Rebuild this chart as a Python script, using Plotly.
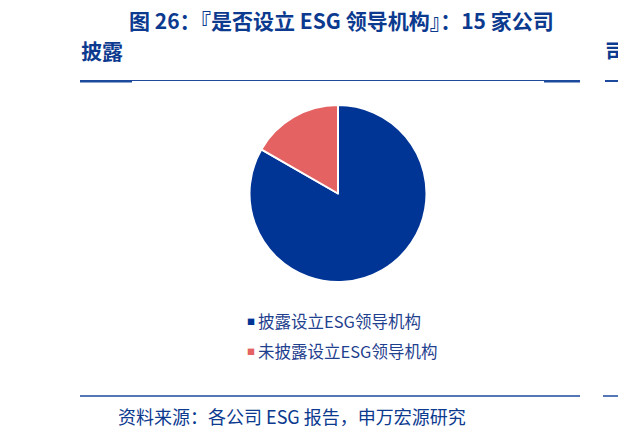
import plotly.graph_objects as go

# data
labels = ["披露设立ESG领导机构", "未披露设立ESG领导机构"]
shares = [83.3, 16.7]
slice_colors = ["#003595", "#e46262"]

title_text = "图 26：『是否设立 ESG 领导机构』：15 家公司"
subtitle_text = "披露"
source_text = "资料来源：各公司 ESG 报告，申万宏源研究"

# page has an 8px body margin, so the figure is drawn slightly smaller and shifted
PAGE_W, PAGE_H = 626, 438
OFF = 8
W, H = PAGE_W - OFF, PAGE_H - OFF
NAVY = "#0b3a8f"
LINE = "#1d4a9c"
FONT = "Noto Sans CJK SC"


def px(x):
  return (x - OFF) / W


def py(y):
  return 1 - (y - OFF) / H


fig = go.Figure()
fig.add_trace(
  go.Pie(
    labels=labels,
    values=shares,
    sort=False,
    direction="clockwise",
    rotation=0,
    marker={"colors": slice_colors, "line": {"color": "white", "width": 2}},
    textinfo="none",
    hoverinfo="label+percent",
    domain={"x": [px(249.5), px(426.5)], "y": [py(282), py(105)]},
    showlegend=False,
  )
)

annotations = [
  dict(x=px(341), y=py(20), text=f"<b>{title_text}</b>", showarrow=False,
       xanchor="center", yanchor="middle", font={"size": 21, "color": NAVY, "family": FONT}),
  dict(x=px(79), y=py(50), text=f"<b>{subtitle_text}</b>", showarrow=False,
       xanchor="left", yanchor="middle", font={"size": 21, "color": NAVY, "family": FONT}),
  dict(x=px(603), y=py(50), text="<b>司</b>", showarrow=False,
       xanchor="left", yanchor="middle", font={"size": 21, "color": NAVY, "family": FONT}),
  dict(x=px(116), y=py(416), text=source_text, showarrow=False,
       xanchor="left", yanchor="middle", font={"size": 18, "color": NAVY, "family": FONT}),
]
for i, (label, color) in enumerate(zip(labels, slice_colors)):
  y = 321 + i * 30
  annotations.append(dict(x=px(245), y=py(y), text="■", showarrow=False, xanchor="left",
                          yanchor="middle", font={"size": 8, "color": color, "family": FONT}))
  annotations.append(dict(x=px(256), y=py(y), text=label, showarrow=False, xanchor="left",
                          yanchor="middle", font={"size": 16.5, "color": "#1f3f8f", "family": FONT}))

shapes = [
  dict(type="line", xref="paper", yref="paper", x0=px(80), x1=px(580), y0=py(80.5), y1=py(80.5),
       line={"color": LINE, "width": 1.2}),
  dict(type="line", xref="paper", yref="paper", x0=px(80), x1=px(132), y0=py(81.5), y1=py(81.5),
       line={"color": LINE, "width": 2}),
  dict(type="line", xref="paper", yref="paper", x0=px(544), x1=px(580), y0=py(81.5), y1=py(81.5),
       line={"color": LINE, "width": 2}),
  dict(type="line", xref="paper", yref="paper", x0=px(605), x1=px(626), y0=py(81), y1=py(81),
       line={"color": LINE, "width": 2}),
  dict(type="line", xref="paper", yref="paper", x0=px(80), x1=px(580), y0=py(396), y1=py(396),
       line={"color": LINE, "width": 1.5}),
  dict(type="line", xref="paper", yref="paper", x0=px(603), x1=px(626), y0=py(396), y1=py(396),
       line={"color": LINE, "width": 1.5}),
]

fig.update_layout(
  width=W,
  height=H,
  margin={"l": 0, "r": 0, "t": 0, "b": 0},
  paper_bgcolor="white",
  plot_bgcolor="white",
  annotations=annotations,
  shapes=shapes,
  font={"family": FONT},
)

fig.write_html("out.html")
